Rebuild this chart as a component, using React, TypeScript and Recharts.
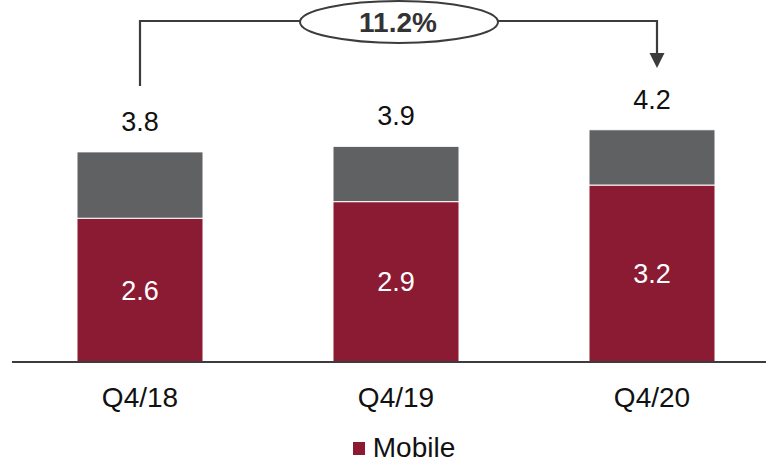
import React from 'react';
import { BarChart, Bar, XAxis, YAxis, Legend, LabelList } from 'recharts';

const quarters = ['Q4/18', 'Q4/19', 'Q4/20'];
const mobile = [2.6, 2.9, 3.2];
const other = [1.2, 1.0, 1.0];
const totals = [3.8, 3.9, 4.2];
const growthLabel = '11.2%';

const RED = '#8b1a33';
const GREY = '#5f6163';
const LINE = '#3c3c3c';
const FONT = '"Liberation Sans", Arial, sans-serif';

const W = 780;
const H = 463;
const M_LEFT = 12;
const M_TOP = 33;

const chartData = quarters.map((q, i) => ({
    quarter: q,
    mobile: mobile[i],
    other: other[i],
    total: totals[i],
}));

const QuarterTick = (props: any) => {
    const { x, y, payload } = props;
    return (
        <text x={x} y={y} dy={45} textAnchor="middle" fontSize={28} fill="#111" fontFamily={FONT}>
            {payload.value}
        </text>
    );
};

const TotalLabel = (props: any) => {
    const { x, y, width, value } = props;
    return (
        <text x={x + width / 2} y={y - 21} textAnchor="middle" fontSize={27} fill="#111" fontFamily={FONT}>
            {value}
        </text>
    );
};

const MobileLegend = () => (
    <div style={{ display: 'flex', justifyContent: 'center', alignItems: 'center', paddingLeft: 16, height: 30 }}>
        <span style={{ width: 12, height: 13, background: RED, marginRight: 8, display: 'inline-block' }} />
        <span style={{ fontSize: 28, lineHeight: '30px', color: '#111', fontFamily: FONT }}>Mobile</span>
    </div>
);

// growth bracket from first to last bar, drawn over the chart
const Bracket = () => {
    const band = (W - M_LEFT) / quarters.length;
    const x0 = M_LEFT + band * 0.5;
    const x1 = M_LEFT + band * 2.5 + 5;
    const yTop = 21;
    return (
        <svg width={766} height={H} style={{ position: 'absolute', left: 0, top: 0, pointerEvents: 'none' }}>
            <polyline points={`${x0},86 ${x0},${yTop} ${x1},${yTop} ${x1},54`} fill="none" stroke={LINE} strokeWidth={2.2} />
            <polygon points={`${x1 - 7.5},53 ${x1 + 7.5},53 ${x1},68`} fill={LINE} />
            <ellipse cx={399} cy={22} rx={99} ry={21} fill="#fff" stroke={LINE} strokeWidth={2} />
            <text x={398} y={22} dy={10} textAnchor="middle" fontSize={28} fontWeight="bold" fill="#333" fontFamily={FONT}>
                {growthLabel}
            </text>
        </svg>
    );
};

export default function App() {
    return (
        <div style={{ position: 'fixed', left: 0, top: 0, width: 766, height: H, overflow: 'hidden', background: '#fff' }}>
            <BarChart
                width={W}
                height={H}
                data={chartData}
                margin={{ top: M_TOP, right: 0, bottom: 0, left: M_LEFT }}
                barCategoryGap={65}
            >
                <XAxis
                    dataKey="quarter"
                    height={71}
                    tickLine={false}
                    tickSize={0}
                    tickMargin={0}
                    axisLine={{ stroke: LINE, strokeWidth: 2 }}
                    tick={<QuarterTick />}
                    interval={0}
                />
                <YAxis hide domain={[0, 5.95]} />
                <Legend verticalAlign="bottom" height={30} content={<MobileLegend />} />
                <Bar dataKey="mobile" stackId="a" fill={RED} stroke="#fff" strokeWidth={1} isAnimationActive={false}>
                    <LabelList dataKey="mobile" position="center" fill="#fff" fontSize={27} fontFamily={FONT} />
                </Bar>
                <Bar dataKey="other" stackId="a" fill={GREY} stroke="#fff" strokeWidth={1} isAnimationActive={false}>
                    <LabelList dataKey="total" content={<TotalLabel />} />
                </Bar>
            </BarChart>
            <Bracket />
        </div>
    );
}
